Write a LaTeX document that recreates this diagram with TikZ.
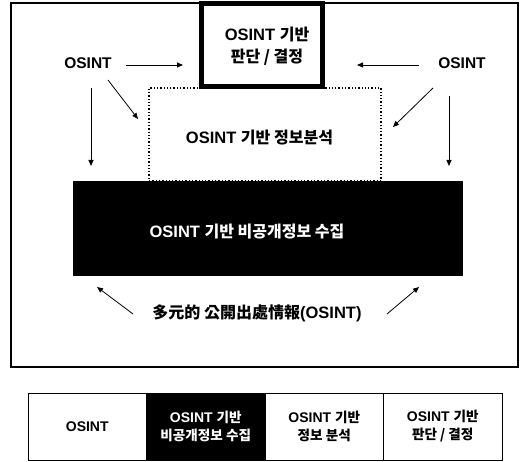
\documentclass[tikz,border=0pt]{standalone}
\usepackage{fontspec}
\setmainfont{Liberation Sans}
\newfontfamily\krf{Noto Sans CJK KR Bold}[Scale=0.97]
\newcommand\K[1]{{\krf #1}}
\usetikzlibrary{arrows.meta}
\tikzset{
  arr/.style={line width=0.8pt,-{Triangle[length=6pt,width=5pt]}},
  big/.style={font=\fontsize{16.5}{22}\selectfont\bfseries,align=center,inner sep=0pt},
  side/.style={font=\fontsize{15.5}{18}\selectfont\bfseries,inner sep=0pt},
  cell/.style={draw,line width=0.9pt,minimum width=118.5pt,minimum height=67pt,inner sep=0pt,
    font=\fontsize{14}{18}\selectfont\bfseries,align=center}
}
\begin{document}
\begin{tikzpicture}[x=1pt,y=-1pt]
\useasboundingbox (0,0) rectangle (528,462);
% outer frame
\node[draw,line width=1.4pt,minimum width=507pt,minimum height=364pt,inner sep=0pt] (frame) at (264.5,185) {};
% dotted box
\node[draw,dotted,line width=1.3pt,minimum width=232pt,minimum height=93pt,inner sep=0pt] (ana) at (265,134.5) {};
\node[big] (anat) at (259.5,138) {OSINT \K{기반 정보분석}};
% black box
\node[fill=black,minimum width=390pt,minimum height=95pt,inner sep=0pt] (col) at (268,228.5) {};
\node[big,text=white] (colt) at (247,232) {OSINT \K{기반 비공개정보 수집}};
% top box
\node[draw,fill=white,line width=5pt,minimum width=121pt,minimum height=83pt,inner sep=0pt] (dec) at (262,45) {};
\node[big] (dect) at (267,46) {OSINT \K{기반}\\\K{판단 / 결정}};
% side labels
\node[side] (oL) at (88,63) {OSINT};
\node[side] (oR) at (462,63) {OSINT};
\node[big] (multi) at (257,313) {\K{多元的 公開出處情報}(OSINT)};
% arrow coordinates
\coordinate (a1s) at (126,65); \coordinate (a1e) at (183,65);
\coordinate (a2s) at (419,65); \coordinate (a2e) at (357,65);
\coordinate (a3s) at (91,88);  \coordinate (a3e) at (91,166);
\coordinate (a4s) at (108,80); \coordinate (a4e) at (138,119);
\coordinate (a5s) at (433,88); \coordinate (a5e) at (393,127);
\coordinate (a6s) at (449,96); \coordinate (a6e) at (449,166);
\coordinate (a7s) at (133,314); \coordinate (a7e) at (97,287);
\coordinate (a8s) at (387,314); \coordinate (a8e) at (419,287);
\foreach \i in {1,...,8} \draw[arr] (a\i s) -- (a\i e);
% bottom legend
\node[cell] (c1) at (87.25,426.5) {OSINT};
\node[cell,fill=black,text=white] (c2) at (205.75,426.5) {OSINT \K{기반}\\\K{비공개정보 수집}};
\node[cell] (c3) at (324.25,426.5) {OSINT \K{기반}\\\K{정보 분석}};
\node[cell] (c4) at (442.75,426.5) {OSINT \K{기반}\\\K{판단 / 결정}};
\end{tikzpicture}
\end{document}
